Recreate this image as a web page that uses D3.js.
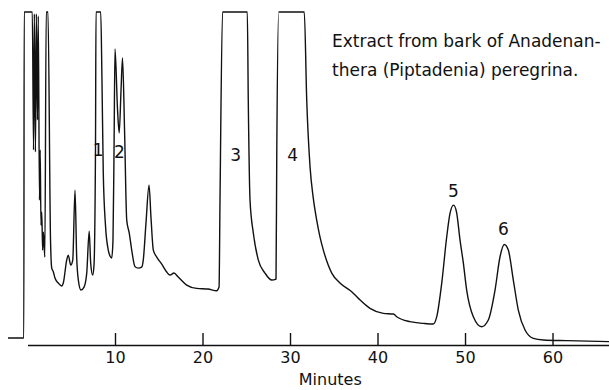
<!DOCTYPE html>
<html>
<head>
<meta charset="utf-8">
<script src="https://cdn.jsdelivr.net/npm/d3@7"></script>
<style>
  body { margin: 0; background: #fff; }
  svg { display: block; }
  text { font-family: "DejaVu Sans", sans-serif; fill: #111; }
</style>
</head>
<body>
<svg width="609" height="390"></svg>
<script>
// retention time (minutes) and detector signal (% of full scale, 100 = pen limit)
const minutes = [
  -2.23, -0.42, -0.38, 0.55, 0.69, 0.78, 0.91, 1.01, 1.14, 1.23,
  1.37, 1.45, 1.54, 1.63, 1.73, 1.82, 1.98, 2.14, 2.34, 2.63,
  2.77, 2.95, 3.14, 3.52, 3.91, 4.09, 4.48, 4.66, 4.94, 5.17,
  5.43, 5.62, 5.81, 6.11, 6.46, 6.77, 7.05, 7.22, 7.45, 7.60,
  7.77, 7.83, 8.37, 8.51, 8.66, 8.91, 9.23, 9.43, 9.62, 9.77,
  9.89, 10.0, 10.29, 10.48, 10.69, 10.86, 11.09, 11.34, 11.63, 11.91,
  12.29, 12.66, 13.05, 13.23, 13.54, 13.89, 14.11, 14.38, 14.77, 15.34,
  15.91, 16.29, 16.74, 17.23, 18.19, 19.34, 20.63, 21.62, 21.89, 22.0,
  22.29, 25.12, 25.23, 25.43, 25.81, 26.38, 27.14, 27.91, 28.40, 28.49,
  28.71, 31.63, 31.91, 32.29, 32.66, 33.05, 33.43, 33.81, 34.77, 35.71,
  37.05, 37.81, 39.14, 40.66, 41.81, 42.19, 43.71, 45.23, 46.38, 46.77,
  47.34, 47.91, 48.29, 48.69, 49.03, 49.43, 49.81, 50.19, 50.95, 51.91,
  52.66, 53.43, 54.0, 54.49, 54.95, 55.52, 56.09, 56.86, 57.81, 58.95,
  61.62, 66.46
];
const signal = [
  2.1, 2.1, 100, 100, 58.6, 99.4, 58.0, 99.4, 67.6, 98.8,
  43.5, 58.6, 36.0, 39.9, 28.5, 33.9, 26.4, 100, 100, 31.5,
  23.1, 22.0, 20.1, 18.6, 17.7, 18.6, 25.5, 27.0, 24.0, 25.5,
  46.5, 26.4, 19.5, 16.5, 17.4, 21.6, 34.2, 24.6, 21.0, 24.0,
  58.6, 100, 100, 79.6, 51.7, 36.0, 28.5, 26.7, 26.1, 31.5,
  58.6, 88.9, 70.6, 63.7, 76.6, 86.2, 64.6, 37.5, 33.6, 28.5,
  23.5, 23.1, 23.4, 25.5, 36.6, 48.0, 38.4, 28.5, 26.4, 24.3,
  21.9, 21.0, 21.6, 20.4, 18.0, 17.0, 16.8, 16.3, 17.4, 43.5,
  100, 100, 73.6, 43.5, 33.6, 25.5, 21.6, 19.5, 19.8, 58.6,
  100, 100, 73.6, 53.5, 44.1, 37.5, 32.4, 28.5, 21.6, 18.6,
  16.0, 14.0, 11.0, 9.5, 9.3, 8.5, 7.0, 6.5, 6.3, 8.5,
  18.6, 32.5, 39.6, 42.0, 39.9, 31.5, 24.6, 16.5, 8.5, 5.5,
  7.5, 16.5, 26.5, 30.2, 28.5, 19.5, 10.5, 4.5, 2.0, 1.5,
  1.3, 1.0
];

const peakNames = ["1", "2", "3", "4", "5", "6"];
const peakLabelTime = [8.07, 10.5, 23.8, 30.3, 48.66, 54.4];
const peakLabelSignal = [58.6, 58.0, 57.0, 57.0, 46.2, 34.8];

const tickMinutes = [10, 20, 30, 40, 50, 60];
const titleLines = ["Extract from bark of Anadenan-", "thera (Piptadenia) peregrina."];

const svg = d3.select("svg");

const x = d3.scaleLinear().domain([0, 66.5]).range([27.5, 609.4]);
const y = d3.scaleLinear().domain([0, 100]).range([345, 12]);

// time axis, ticks pointing up into the trace area
const axis = svg.append("g")
  .attr("transform", `translate(0,${y(0)})`)
  .call(d3.axisBottom(x).tickValues(tickMinutes).tickFormat(d3.format("d"))
    .tickSizeInner(-12).tickSizeOuter(0).tickPadding(7));
axis.select(".domain").attr("stroke", "#111").attr("stroke-width", 1.6);
axis.selectAll(".tick line").attr("stroke", "#111").attr("stroke-width", 1.4);
axis.selectAll(".tick text").attr("font-size", 16).style("font-family", "DejaVu Sans, sans-serif").attr("fill", "#111");

svg.append("text")
  .attr("x", x(34.6)).attr("y", 385)
  .attr("text-anchor", "middle")
  .attr("font-size", 16)
  .text("Minutes");

// chromatogram trace
const pts = minutes.map((m, i) => [m, signal[i]]);
const line = d3.line()
  .x(d => x(d[0]))
  .y(d => y(d[1]))
  .curve(d3.curveMonotoneX);

svg.append("path")
  .datum(pts)
  .attr("d", line)
  .attr("fill", "none")
  .attr("stroke", "#111")
  .attr("stroke-width", 1.4)
  .attr("stroke-linejoin", "round");

// peak numbers
svg.append("g").selectAll("text")
  .data(peakNames)
  .join("text")
  .attr("x", (d, i) => x(peakLabelTime[i]))
  .attr("y", (d, i) => y(peakLabelSignal[i]))
  .attr("dy", "0.36em")
  .attr("text-anchor", "middle")
  .attr("font-size", 17)
  .text(d => d);

svg.append("g").selectAll("text")
  .data(titleLines)
  .join("text")
  .attr("x", 332)
  .attr("y", (d, i) => 47 + i * 29)
  .attr("font-size", 17)
  .text(d => d);
</script>
</body>
</html>
